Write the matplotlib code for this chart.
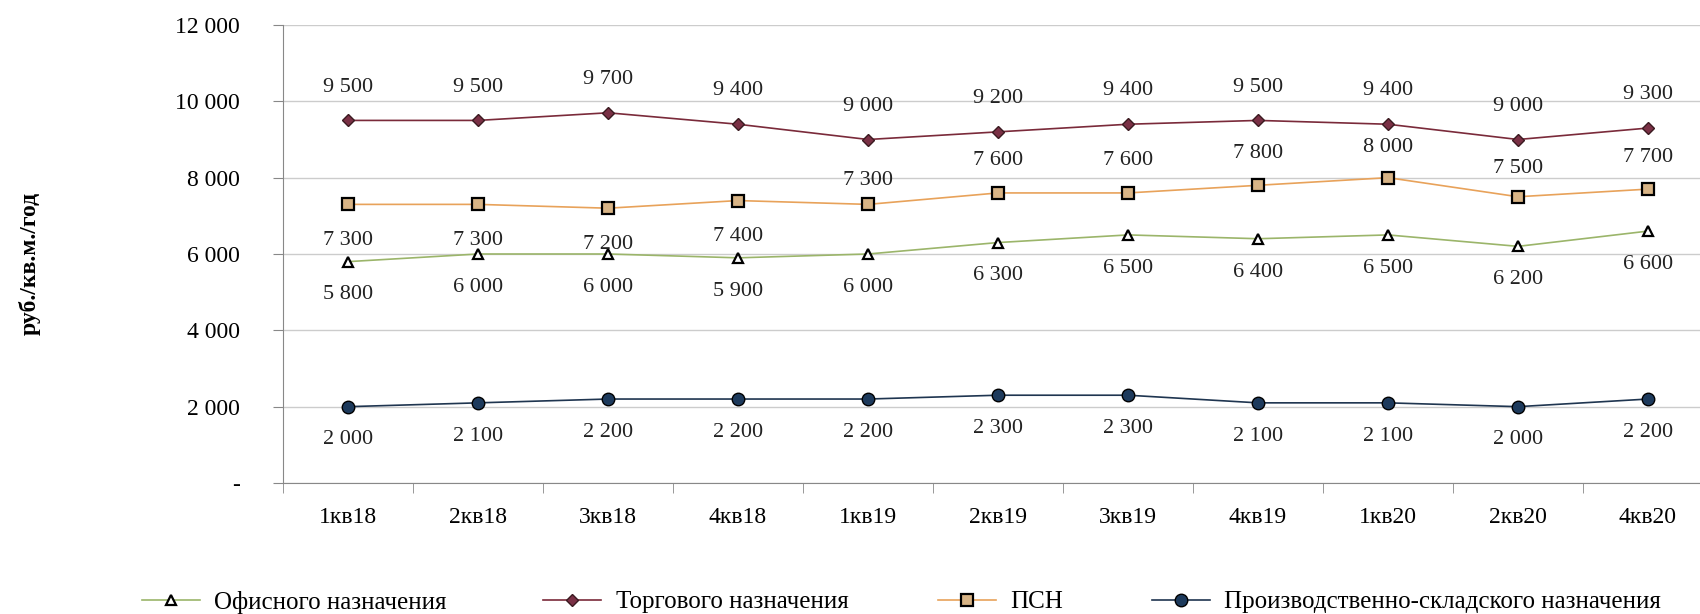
import numpy as np
import matplotlib.pyplot as plt

plt.rcParams['font.family'] = ['Liberation Serif', 'DejaVu Serif']

quarters = ["1кв18", "2кв18", "3кв18", "4кв18", "1кв19", "2кв19",
            "3кв19", "4кв19", "1кв20", "2кв20", "4кв20"]
office = [5800, 6000, 6000, 5900, 6000, 6300, 6500, 6400, 6500, 6200, 6600]
trade = [9500, 9500, 9700, 9400, 9000, 9200, 9400, 9500, 9400, 9000, 9300]
psn = [7300, 7300, 7200, 7400, 7300, 7600, 7600, 7800, 8000, 7500, 7700]
prod = [2000, 2100, 2200, 2200, 2200, 2300, 2300, 2100, 2100, 2000, 2200]

names = ["Офисного назначения", "Торгового назначения", "ПСН",
         "Производственно-складского назначения"]

# label offsets in points (negative = below the marker)
office_off = [-24] * 11
trade_off = [24] * 11
psn_off = [-26, -26, -26, -26, 17, 23, 23, 23, 22, 20, 23]
prod_off = [-24] * 11


def fmt(v):
    return f"{v:,}".replace(",", " ")


fig = plt.figure(figsize=(17, 6.14), dpi=100)
ax = fig.add_axes([283 / 1700, 131 / 614, 1430 / 1700, 458 / 614])

x = np.arange(len(quarters))

series = [
    (office, office_off, dict(color="#9bb56a", marker="^", mfc="white", mec="black", ms=7.5, mew=1.6)),
    (trade, trade_off, dict(color="#7a2a3a", marker="D", mfc="#7a3045", mec="#3a1a20", ms=6.5, mew=1)),
    (psn, psn_off, dict(color="#e8a25a", marker="s", mfc="#d8b486", mec="black", ms=9, mew=1.6)),
    (prod, prod_off, dict(color="#1f3550", marker="o", mfc="#1d3a5c", mec="black", ms=9, mew=1)),
]

lines = []
for (vals, offs, st), name in zip(series, names):
    ln, = ax.plot(x, vals, lw=1.2, label=name, **st)
    lines.append(ln)
    for xi, v, o in zip(x, vals, offs):
        ax.annotate(fmt(v), (xi, v), xytext=(0, o), textcoords="offset points",
                    ha="center", va="center", fontsize=16, color="#222222")

ax.set_xlim(-0.5, len(quarters) - 0.5)
ax.set_ylim(0, 12000)
ax.set_yticks(np.arange(0, 12001, 2000))
ax.set_yticklabels(["-"] + [fmt(v) for v in range(2000, 12001, 2000)])
ax.set_xticks(x)
ax.set_xticklabels(quarters)
ax.set_xticks(np.arange(-0.5, len(quarters)), minor=True)
ax.tick_params(axis="x", which="major", length=0, pad=17, labelsize=17)
ax.tick_params(axis="x", which="minor", length=7, color="#888888")
ax.tick_params(axis="y", length=7, color="#888888", pad=24, labelsize=17)
ax.grid(axis="y", color="#cccccc", lw=1)
ax.set_axisbelow(True)
for s in ["top", "right"]:
    ax.spines[s].set_visible(False)
for s in ["left", "bottom"]:
    ax.spines[s].set_color("#888888")

fig.text(30 / 1700, 1 - 263 / 614, "руб./кв.м./год", rotation=90, ha="center",
         va="center", fontsize=17, fontweight="bold")

# legend: one entry per box, spaced like the reference
anchors = [142, 543, 938, 1152]
for ln, ax0 in zip(lines, anchors):
    fig.legend(handles=[ln], loc="center left",
               bbox_to_anchor=(ax0 / 1700, 1 - 602 / 614), frameon=False,
               fontsize=18, handlelength=2.3, handletextpad=0.6,
               borderaxespad=0, borderpad=0)

fig.savefig("out.png", dpi=100)
